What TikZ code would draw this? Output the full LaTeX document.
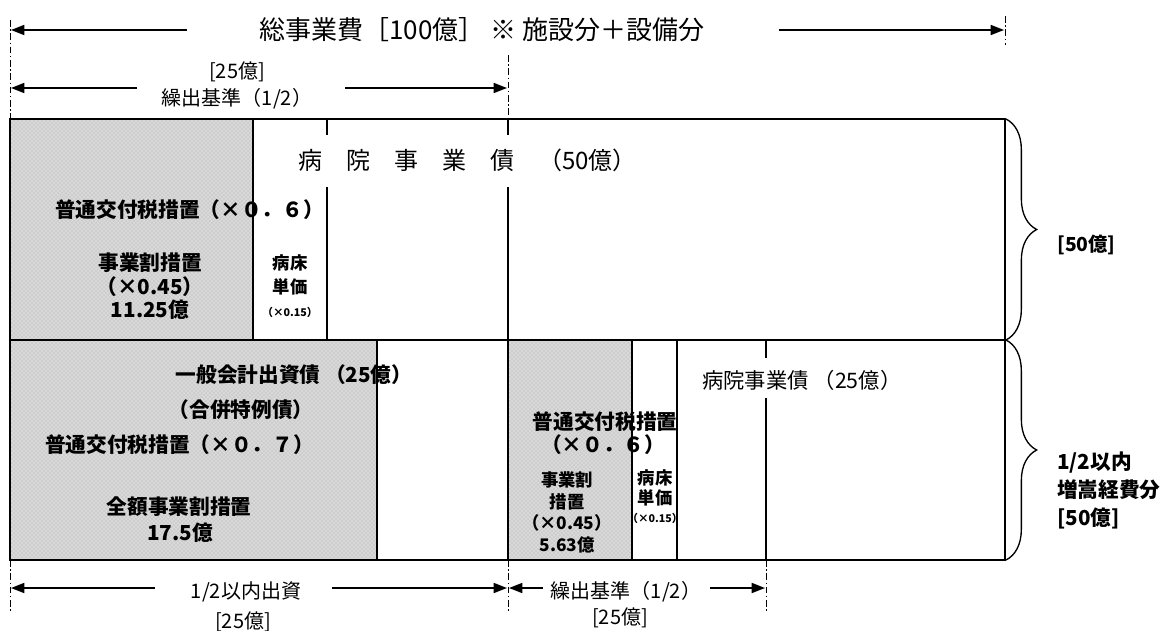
\documentclass[tikz,border=0pt]{standalone}
\usepackage{fontspec}
\setmainfont{Noto Sans CJK JP}
\usetikzlibrary{arrows.meta,decorations.pathreplacing,patterns}
\begin{document}
\begin{tikzpicture}[x=0.75pt,y=-0.75pt,
  box/.style={line width=1.2pt},
  ddash/.style={line width=0.6pt, dash pattern=on 5pt off 2pt on 1pt off 2pt},
  arr/.style={line width=1.2pt,-{Triangle[length=10pt,width=7.5pt]}},
  shadefill/.style={fill=gray!30},
  dotfill/.style={pattern=crosshatch dots, pattern color=gray!70},
  brc/.style={line width=1pt, decorate, decoration={brace, amplitude=23pt}},
  lbl/.style={inner sep=0pt, font=\fontsize{15}{17}\selectfont},
  bl/.style={inner sep=0pt, font=\fontsize{15.5}{18}\selectfont\bfseries},
  bs/.style={inner sep=0pt, font=\fontsize{13}{15}\selectfont\bfseries},
  tiny/.style={inner sep=0pt, font=\fontsize{8}{9}\selectfont\bfseries}
]
\useasboundingbox (0,0) rectangle (1166,631);

% shaded areas
\fill[shadefill] (10,119) rectangle (253,340);
\fill[dotfill] (10,119) rectangle (253,340);
\fill[shadefill] (10,340) rectangle (377,560);
\fill[dotfill] (10,340) rectangle (377,560);
\fill[shadefill] (508,340) rectangle (632,560);
\fill[dotfill] (508,340) rectangle (632,560);

% boxes
\draw[box] (10,119) rectangle (1005,560);
\draw[box] (10,340) -- (1005,340);
\draw[box] (253,119) -- (253,340);
\draw[box] (327,119) -- (327,135);
\draw[box] (327,187) -- (327,340);
\draw[box] (508,119) -- (508,135);
\draw[box] (508,187) -- (508,560);
\draw[box] (377,340) -- (377,560);
\draw[box] (632,340) -- (632,560);
\draw[box] (677,340) -- (677,560);
\draw[box] (766,340) -- (766,358);
\draw[box] (766,398) -- (766,560);

% dash-dot guide lines
\draw[ddash] (10,20) -- (10,119);
\draw[ddash] (1005,16) -- (1005,45);
\draw[ddash] (508,55) -- (508,119);
\draw[ddash] (10,560) -- (10,612);
\draw[ddash] (508,560) -- (508,612);
\draw[ddash] (766,560) -- (766,612);

% top title arrow
\node[inner sep=0pt, font=\fontsize{19.5}{22}\selectfont] (title) at (482,30) {総事業費［100億］ ※ 施設分＋設備分};
\coordinate (tL) at (11,30);
\coordinate (tl) at (187,30);
\coordinate (tr) at (779,30);
\coordinate (tR) at (1004,30);
\draw[arr] (tl) -- (tL);
\draw[arr] (tr) -- (tR);

% second arrow
\node[lbl] (v25a) at (237,72) {[25億]};
\node[lbl] (kuri1) at (237,99) {繰出基準（1/2）};
\coordinate (aL) at (11,88);
\coordinate (al) at (137,88);
\coordinate (ar) at (345,88);
\coordinate (aR) at (507,88);
\draw[arr] (al) -- (aL);
\draw[arr] (ar) -- (aR);

% upper box texts
\node[inner sep=0pt, anchor=west, font=\fontsize{18}{20}\selectfont] (byoin50) at (298,160) {病　院　事　業　債　（50億）};
\node[bl, anchor=west] (futsu1) at (55,210) {普通交付税措置（×０．６）};
\node[bl] (jigyo1) at (150,263) {事業割措置};
\node[bl] (x045a) at (150,287) {（×0.45）};
\node[bl] (v1125) at (150,310) {11.25億};
\node[bs] (byosho1) at (290,263) {病床};
\node[bs] (tanka1) at (290,287) {単価};
\node[tiny] (x015a) at (290,312) {（×0.15）};

% lower left texts
\node[bl] (ippan) at (294,375) {一般会計出資債 （25億）};
\node[bl] (gappei) at (241,410) {（合併特例債）};
\node[bl, anchor=west] (futsu2) at (45,445) {普通交付税措置（×０．７）};
\node[bl] (zengaku) at (179,507) {全額事業割措置};
\node[bl] (v175) at (180,533) {17.5億};

% lower middle texts
\node[bl] (futsu3) at (605,422) {普通交付税措置};
\node[bl] (x06b) at (603,445) {（×０．６）};
\node[bs] (jigyo2) at (567,480) {事業割};
\node[bs] (sochi2) at (567,502) {措置};
\node[bs] (x045b) at (567,523) {（×0.45）};
\node[bs] (v563) at (567,545) {5.63億};
\node[bs] (byosho2) at (655,478) {病床};
\node[bs] (tanka2) at (655,498) {単価};
\node[tiny] (x015b) at (655,518) {（×0.15）};

\node[inner sep=0pt, anchor=west, font=\fontsize{16}{18}\selectfont] (byoin25) at (702,380) {病院事業債 （25億）};

% braces
\coordinate (br1a) at (1006,119);
\coordinate (br1b) at (1006,340);
\coordinate (br2a) at (1006,340);
\coordinate (br2b) at (1006,560);
\draw[brc] (br1a) -- (br1b);
\draw[brc] (br2a) -- (br2b);
\node[inner sep=0pt, anchor=west, font=\fontsize{14.5}{16}\selectfont\bfseries] (r50) at (1057,245) {[50億]};
\node[bl, anchor=west] (half) at (1057,463) {1/2以内};
\node[bl, anchor=west] (zosu) at (1057,490) {増嵩経費分};
\node[bl, anchor=west] (r50b) at (1057,518) {[50億]};

% bottom arrows
\node[lbl] (naishi) at (246,592) {1/2以内出資};
\node[lbl] (v25b) at (243,622) {[25億]};
\coordinate (bL) at (11,588);
\coordinate (bl1) at (155,588);
\coordinate (br1) at (332,588);
\coordinate (bR) at (507,588);
\draw[arr] (bl1) -- (bL);
\draw[arr] (br1) -- (bR);

\node[lbl] (kuri2) at (626,592) {繰出基準（1/2）};
\node[lbl] (v25c) at (620,618) {[25億]};
\coordinate (cL) at (509,588);
\coordinate (cl) at (543,588);
\coordinate (cr) at (710,588);
\coordinate (cR) at (765,588);
\draw[arr] (cl) -- (cL);
\draw[arr] (cr) -- (cR);
\end{tikzpicture}
\end{document}
